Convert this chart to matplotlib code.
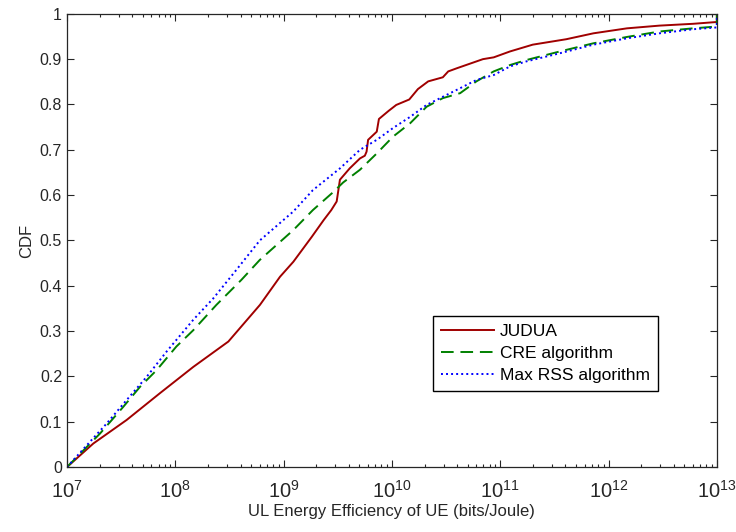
import numpy as np
import matplotlib
matplotlib.use("Agg")
import matplotlib.pyplot as plt
from matplotlib.ticker import LogLocator, NullFormatter, FixedLocator

plt.rcParams['font.family'] = ['Liberation Sans', 'DejaVu Sans']
plt.rcParams['mathtext.fontset'] = 'custom'
plt.rcParams['mathtext.rm'] = 'Liberation Sans'
plt.rcParams['mathtext.it'] = 'Liberation Sans:italic'
plt.rcParams['mathtext.bf'] = 'Liberation Sans:bold'

# log10 of UL energy efficiency, CDF values
judua_logx = [7.0, 7.243, 7.551, 7.858, 8.166, 8.49, 8.782, 8.967, 9.09, 9.26, 9.37,
              9.44, 9.49, 9.52, 9.61, 9.705, 9.75, 9.766, 9.78, 9.86, 9.88, 9.97,
              10.04, 10.16, 10.24, 10.335, 10.47, 10.52, 10.60, 10.84, 10.94, 11.09,
              11.30, 11.61, 11.86, 12.17, 12.47, 12.78, 13.0, 13.0]
judua_cdf = [0.0, 0.052, 0.104, 0.163, 0.221, 0.277, 0.358, 0.420, 0.453, 0.508, 0.545,
             0.567, 0.586, 0.634, 0.659, 0.681, 0.687, 0.696, 0.722, 0.740, 0.768, 0.786,
             0.799, 0.811, 0.834, 0.851, 0.860, 0.873, 0.880, 0.900, 0.904, 0.917,
             0.932, 0.944, 0.957, 0.968, 0.974, 0.978, 0.982, 1.0]

cre_logx = [7.0, 7.305, 7.52, 7.674, 7.828, 8.01, 8.166, 8.38, 8.61, 8.78, 9.09, 9.27,
            9.45, 9.55, 9.705, 9.86, 10.01, 10.17, 10.32, 10.47, 10.63, 10.78, 10.94,
            11.09, 11.24, 11.55, 11.86, 12.17, 12.47, 12.78, 13.0, 13.0]
cre_cdf = [0.0, 0.074, 0.133, 0.177, 0.214, 0.266, 0.302, 0.358, 0.413, 0.457, 0.523, 0.567,
           0.605, 0.628, 0.656, 0.692, 0.729, 0.759, 0.795, 0.814, 0.825, 0.851, 0.873,
           0.887, 0.898, 0.917, 0.935, 0.949, 0.961, 0.968, 0.972, 1.0]

rss_logx = [7.0, 7.228, 7.366, 7.551, 7.735, 7.92, 8.166, 8.35, 8.55, 8.78, 9.09, 9.27,
            9.52, 9.705, 9.86, 10.01, 10.17, 10.32, 10.47, 10.63, 10.78, 10.94,
            11.09, 11.24, 11.55, 11.86, 12.17, 12.47, 12.78, 13.0, 13.0]
rss_cdf = [0.0, 0.060, 0.096, 0.148, 0.199, 0.255, 0.325, 0.372, 0.431, 0.500, 0.564, 0.611,
           0.659, 0.700, 0.722, 0.748, 0.773, 0.799, 0.817, 0.836, 0.854, 0.865,
           0.884, 0.895, 0.913, 0.932, 0.946, 0.957, 0.966, 0.970, 1.0]

fig = plt.figure(figsize=(7.36, 5.32), dpi=100)
ax = fig.add_axes([0.091, 0.122, 0.883, 0.852])

ax.plot(10 ** np.array(judua_logx), judua_cdf, color='#a00000', lw=1.4, label='JUDUA')
ax.plot(10 ** np.array(cre_logx), cre_cdf, color='#008000', lw=1.4, ls=(0, (6.5, 3.5)),
        label='CRE algorithm')
ax.plot(10 ** np.array(rss_logx), rss_cdf, color='#0000ff', lw=1.4, ls=(0, (1, 1.6)),
        label='Max RSS algorithm')

ax.set_xscale('log')
ax.set_xlim(1e7, 1e13)
ax.set_ylim(0, 1)
ax.xaxis.set_major_locator(LogLocator(base=10, numticks=10))
ax.xaxis.set_minor_locator(LogLocator(base=10, subs=np.arange(2, 10), numticks=100))
ax.xaxis.set_minor_formatter(NullFormatter())
ax.yaxis.set_major_locator(FixedLocator(np.arange(0, 1.01, 0.1)))
ax.set_yticklabels(['0', '0.1', '0.2', '0.3', '0.4', '0.5', '0.6', '0.7', '0.8', '0.9', '1'])

ax.tick_params(which='both', direction='in', top=True, right=True, colors='#262626',
               labelcolor='#262626', labelsize=11.5)
ax.tick_params(which='major', length=5, width=0.8)
ax.tick_params(which='minor', length=2.5, width=0.8)
ax.tick_params(axis='x', labelsize=14.5, pad=9)
for s in ax.spines.values():
    s.set_color('#262626')
    s.set_linewidth(0.9)

ax.set_xlabel('UL Energy Efficiency of UE (bits/Joule)', fontsize=12, color='#262626',
              labelpad=2)
ax.set_ylabel('CDF', fontsize=12, color='#262626')

leg = ax.legend(loc='lower left', bbox_to_anchor=(0.563, 0.168), fontsize=12.5,
                fancybox=False, framealpha=1, edgecolor='black', borderpad=0.45,
                handlelength=3.1, handletextpad=0.3, labelspacing=0.4, borderaxespad=0)
leg.get_frame().set_linewidth(1.0)

fig.savefig('out.png', dpi=100)
